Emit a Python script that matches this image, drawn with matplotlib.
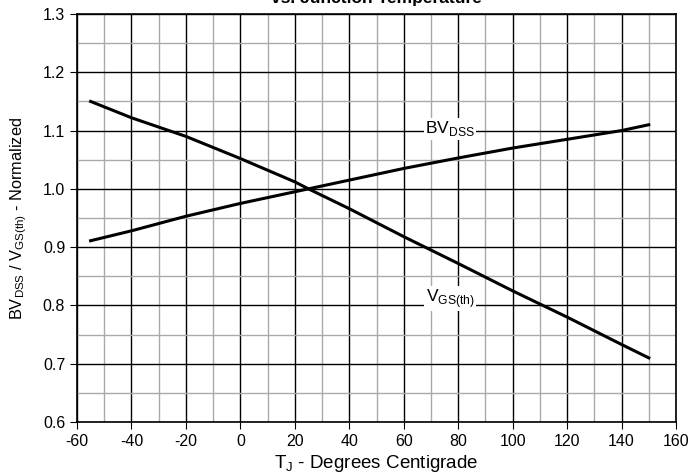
import matplotlib
matplotlib.use("Agg")
import matplotlib.pyplot as plt
from matplotlib.ticker import MultipleLocator

plt.rcParams['font.family'] = ['Liberation Sans', 'DejaVu Sans']
plt.rcParams['mathtext.fontset'] = 'custom'
plt.rcParams['mathtext.rm'] = 'Liberation Sans'

temps = [-55, -40, -20, 0, 20, 25, 40, 60, 80, 100, 120, 140, 150]
bv_dss = [0.911, 0.928, 0.953, 0.975, 0.995, 1.0, 1.015, 1.035, 1.053, 1.070, 1.085, 1.100, 1.110]
vgs_th = [1.150, 1.122, 1.090, 1.052, 1.012, 1.0, 0.966, 0.918, 0.872, 0.825, 0.780, 0.733, 0.710]

xticks = [-60, -40, -20, 0, 20, 40, 60, 80, 100, 120, 140, 160]
yticks = [0.6, 0.7, 0.8, 0.9, 1.0, 1.1, 1.2, 1.3]

fig = plt.figure(figsize=(6.88, 4.76), dpi=100)
ax = fig.add_axes([77/688, 1 - 422/476, (676-77)/688, (422-14)/476])

ax.set_xlim(-60, 160)
ax.set_ylim(0.6, 1.3)
ax.set_xticks(xticks)
ax.set_yticks(yticks)
ax.set_xticklabels([str(t) for t in xticks])
ax.set_yticklabels([f"{t:.1f}" for t in yticks])
ax.xaxis.set_minor_locator(MultipleLocator(10))
ax.yaxis.set_minor_locator(MultipleLocator(0.05))
ax.grid(which='major', color='black', linewidth=1.0, zorder=0)
ax.grid(which='minor', color='#aaaaaa', linewidth=1.0, zorder=0)
ax.set_axisbelow(True)
ax.tick_params(which='major', direction='out', length=5, labelsize=11.5, color='black')
ax.tick_params(which='minor', length=0)
for s in ax.spines.values():
    s.set_linewidth(1.2)

ax.plot(temps, bv_dss, color='black', linewidth=2.2, zorder=3)
ax.plot(temps, vgs_th, color='black', linewidth=2.2, zorder=3)

ax.text(77, 1.103, r'BV$_{\mathregular{DSS}}$', fontsize=12.5, ha='center', va='center',
        bbox=dict(facecolor='white', edgecolor='none', pad=1), zorder=4)
ax.text(77, 0.812, r'V$_{\mathregular{GS(th)}}$', fontsize=12.5, ha='center', va='center',
        bbox=dict(facecolor='white', edgecolor='none', pad=1), zorder=4)

ax.set_xlabel(r'T$_{\mathregular{J}}$ - Degrees Centigrade', fontsize=13.5, labelpad=3)
ax.set_ylabel(r'BV$_{\mathregular{DSS}}$ / V$_{\mathregular{GS(th)}}$ - Normalized', fontsize=11.8, labelpad=10)

fig.text(376/688, 1.003, 'vs. Junction Temperature', ha='center', va='center',
         fontsize=12.5, fontweight='bold')

fig.savefig('out.png', dpi=100)
